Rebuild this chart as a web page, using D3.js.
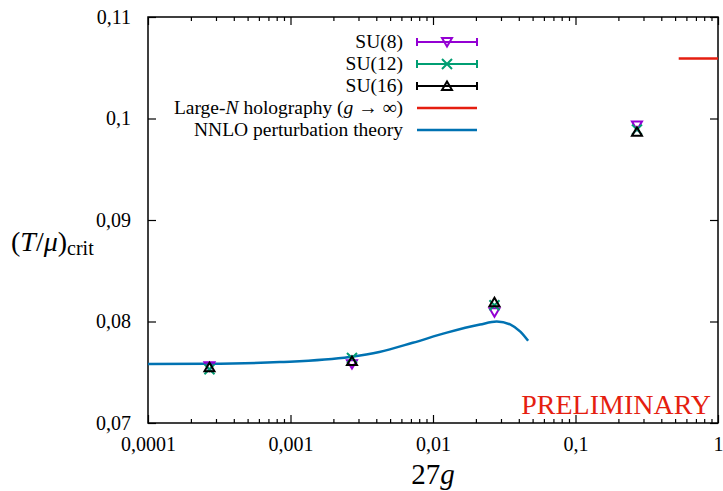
<!DOCTYPE html>
<html><head><meta charset="utf-8">
<script src="https://cdn.jsdelivr.net/npm/d3@7"></script>
<style>
body{margin:0;background:#fff;}
</style></head>
<body><svg id="c" width="723" height="491"></svg>
<script>
// x = 27g
const xTicks = [0.0001, 0.001, 0.01, 0.1, 1];
const xTickLabels = ["0,0001", "0,001", "0,01", "0,1", "1"];
const yTicks = [0.07, 0.08, 0.09, 0.1, 0.11];
const yTickLabels = ["0,07", "0,08", "0,09", "0,1", "0,11"];

const su8X = [0.00027, 0.0027, 0.027, 0.27];
const su8Y = [0.0756, 0.0758, 0.0809, 0.0993];
const su12X = [0.00027, 0.0027, 0.027, 0.27];
const su12Y = [0.0753, 0.0764, 0.0816, 0.0989];
const su16X = [0.00027, 0.0027, 0.027, 0.27];
const su16Y = [0.0755, 0.0761, 0.0819, 0.0987];

const holoX = [0.53, 1];
const holoY = [0.1059, 0.1059];

const nnloX = [0.0001, 0.00026, 0.00084, 0.0026, 0.0042, 0.0072, 0.0125, 0.0214, 0.028, 0.035, 0.041, 0.0465];
const nnloY = [0.07581, 0.07583, 0.0760, 0.0765, 0.0770, 0.0779, 0.0789, 0.0797, 0.0800, 0.0797, 0.0790, 0.0781];

const seriesNames = ["SU(8)", "SU(12)", "SU(16)"];

const FONT = "'Liberation Serif', 'Times New Roman', Tinos, 'DejaVu Serif', serif";
const svg = d3.select("#c");
const L = 148, R = 718, T = 17, B = 423;
const x = d3.scaleLog().domain([0.0001, 1]).range([L, R]);
const y = d3.scaleLinear().domain([0.07, 0.11]).range([B, T]);

const g = svg.append("g");
g.append("rect").attr("x", L).attr("y", T).attr("width", R - L).attr("height", B - T)
  .attr("fill", "none").attr("stroke", "#000").attr("stroke-width", 1.5);

const minor = [];
for (let e = -4; e < 0; e++) for (let k = 2; k <= 9; k++) minor.push(k * Math.pow(10, e));
const gx = g.append("g").attr("transform", `translate(0,${B})`)
  .call(d3.axisBottom(x).tickValues(xTicks).tickSize(-8).tickFormat((d, i) => xTickLabels[i]).tickPadding(14));
gx.select(".domain").remove();
gx.selectAll("text").attr("font-size", 20);
const gxm = g.append("g").attr("transform", `translate(0,${B})`).call(d3.axisBottom(x).tickValues(minor).tickSize(-4).tickFormat(""));
gxm.select(".domain").remove();
const gxt = g.append("g").attr("transform", `translate(0,${T})`).call(d3.axisTop(x).tickValues(xTicks).tickSize(-8).tickFormat(""));
gxt.select(".domain").remove();
const gxtm = g.append("g").attr("transform", `translate(0,${T})`).call(d3.axisTop(x).tickValues(minor).tickSize(-4).tickFormat(""));
gxtm.select(".domain").remove();

const gy = g.append("g").attr("transform", `translate(${L},0)`)
  .call(d3.axisLeft(y).tickValues(yTicks).tickSize(-8).tickPadding(17).tickFormat((d, i) => yTickLabels[i]));
gy.select(".domain").remove();
gy.selectAll("text").attr("font-size", 20);
const gyr = g.append("g").attr("transform", `translate(${R},0)`)
  .call(d3.axisRight(y).tickValues(yTicks).tickSize(-8).tickFormat(""));
gyr.select(".domain").remove();
svg.selectAll(".tick line").attr("stroke", "#000").attr("stroke-width", 1.2);

svg.append("clipPath").attr("id", "clip").append("rect").attr("x", L).attr("y", T).attr("width", R - L).attr("height", B - T);
const plot = svg.append("g").attr("clip-path", "url(#clip)");

const line = d3.line().x(d => x(d[0])).y(d => y(d[1])).curve(d3.curveMonotoneX);
plot.append("path").datum(nnloX.map((v, i) => [v, nnloY[i]])).attr("d", line)
  .attr("fill", "none").attr("stroke", "#0072B2").attr("stroke-width", 2.5);
plot.append("path").datum(holoX.map((v, i) => [v, holoY[i]])).attr("d", d3.line().x(d => x(d[0])).y(d => y(d[1])))
  .attr("fill", "none").attr("stroke", "#E51E10").attr("stroke-width", 2.5);

const colors = ["#9400D3", "#009E73", "#000000"];
function marker(sel, type, color, cx, cy) {
  const s = 5;
  if (type === 0) {
    sel.append("path").attr("d", `M${cx - s},${cy - s * 0.8}L${cx + s},${cy - s * 0.8}L${cx},${cy + s * 0.9}Z`)
      .attr("fill", "none").attr("stroke", color).attr("stroke-width", 2);
  } else if (type === 1) {
    sel.append("path").attr("d", `M${cx - s},${cy - s}L${cx + s},${cy + s}M${cx - s},${cy + s}L${cx + s},${cy - s}`)
      .attr("fill", "none").attr("stroke", color).attr("stroke-width", 2);
  } else {
    sel.append("path").attr("d", `M${cx - s},${cy + s * 0.8}L${cx + s},${cy + s * 0.8}L${cx},${cy - s * 0.9}Z`)
      .attr("fill", "none").attr("stroke", color).attr("stroke-width", 2);
  }
}
const allX = [su8X, su12X, su16X], allY = [su8Y, su12Y, su16Y];
allX.forEach((xs, k) => {
  xs.forEach((v, i) => marker(plot, k, colors[k], x(v), y(allY[k][i])));
});

const lg = svg.append("g").attr("font-size", 19.5);
const rowsY = [42, 64, 86, 108, 130];
const x0 = 417, x1 = 477, tx = 403;
seriesNames.forEach((n, k) => {
  const yy = rowsY[k];
  lg.append("text").attr("x", tx).attr("y", yy + 6).attr("text-anchor", "end").text(n);
  lg.append("line").attr("x1", x0).attr("x2", x1).attr("y1", yy).attr("y2", yy).attr("stroke", colors[k]).attr("stroke-width", 2);
  [x0, x1].forEach(xx => lg.append("line").attr("x1", xx).attr("x2", xx).attr("y1", yy - 4).attr("y2", yy + 4).attr("stroke", colors[k]).attr("stroke-width", 2));
  marker(lg, k, colors[k], (x0 + x1) / 2, yy);
});
const t4 = lg.append("text").attr("x", tx).attr("y", rowsY[3] + 6).attr("text-anchor", "end");
t4.append("tspan").text("Large-");
t4.append("tspan").attr("font-style", "italic").text("N");
t4.append("tspan").text(" holography (");
t4.append("tspan").attr("font-style", "italic").text("g");
t4.append("tspan").text(" \u2192 \u221E)");
lg.append("line").attr("x1", x0).attr("x2", x1).attr("y1", rowsY[3]).attr("y2", rowsY[3]).attr("stroke", "#E51E10").attr("stroke-width", 2.5);
lg.append("text").attr("x", tx).attr("y", rowsY[4] + 6).attr("text-anchor", "end").text("NNLO perturbation theory");
lg.append("line").attr("x1", x0).attr("x2", x1).attr("y1", rowsY[4]).attr("y2", rowsY[4]).attr("stroke", "#0072B2").attr("stroke-width", 2.5);

svg.append("text").attr("x", 711).attr("y", 414).attr("text-anchor", "end").attr("fill", "#E51E10")
  .attr("font-size", 28).text("PRELIMINARY");

const xt = svg.append("text").attr("x", 433).attr("y", 484).attr("text-anchor", "middle").attr("font-size", 29);
xt.append("tspan").text("27");
xt.append("tspan").attr("font-style", "italic").text("g");

const yt = svg.append("text").attr("x", 11).attr("y", 251).attr("font-size", 28);
yt.append("tspan").text("(");
yt.append("tspan").attr("font-style", "italic").text("T");
yt.append("tspan").text("/");
yt.append("tspan").attr("font-style", "italic").text("\u03BC");
yt.append("tspan").text(")");
yt.append("tspan").attr("font-size", 20).attr("dy", 4).text("crit");

svg.selectAll("text").style("font-family", FONT);
</script></body></html>
